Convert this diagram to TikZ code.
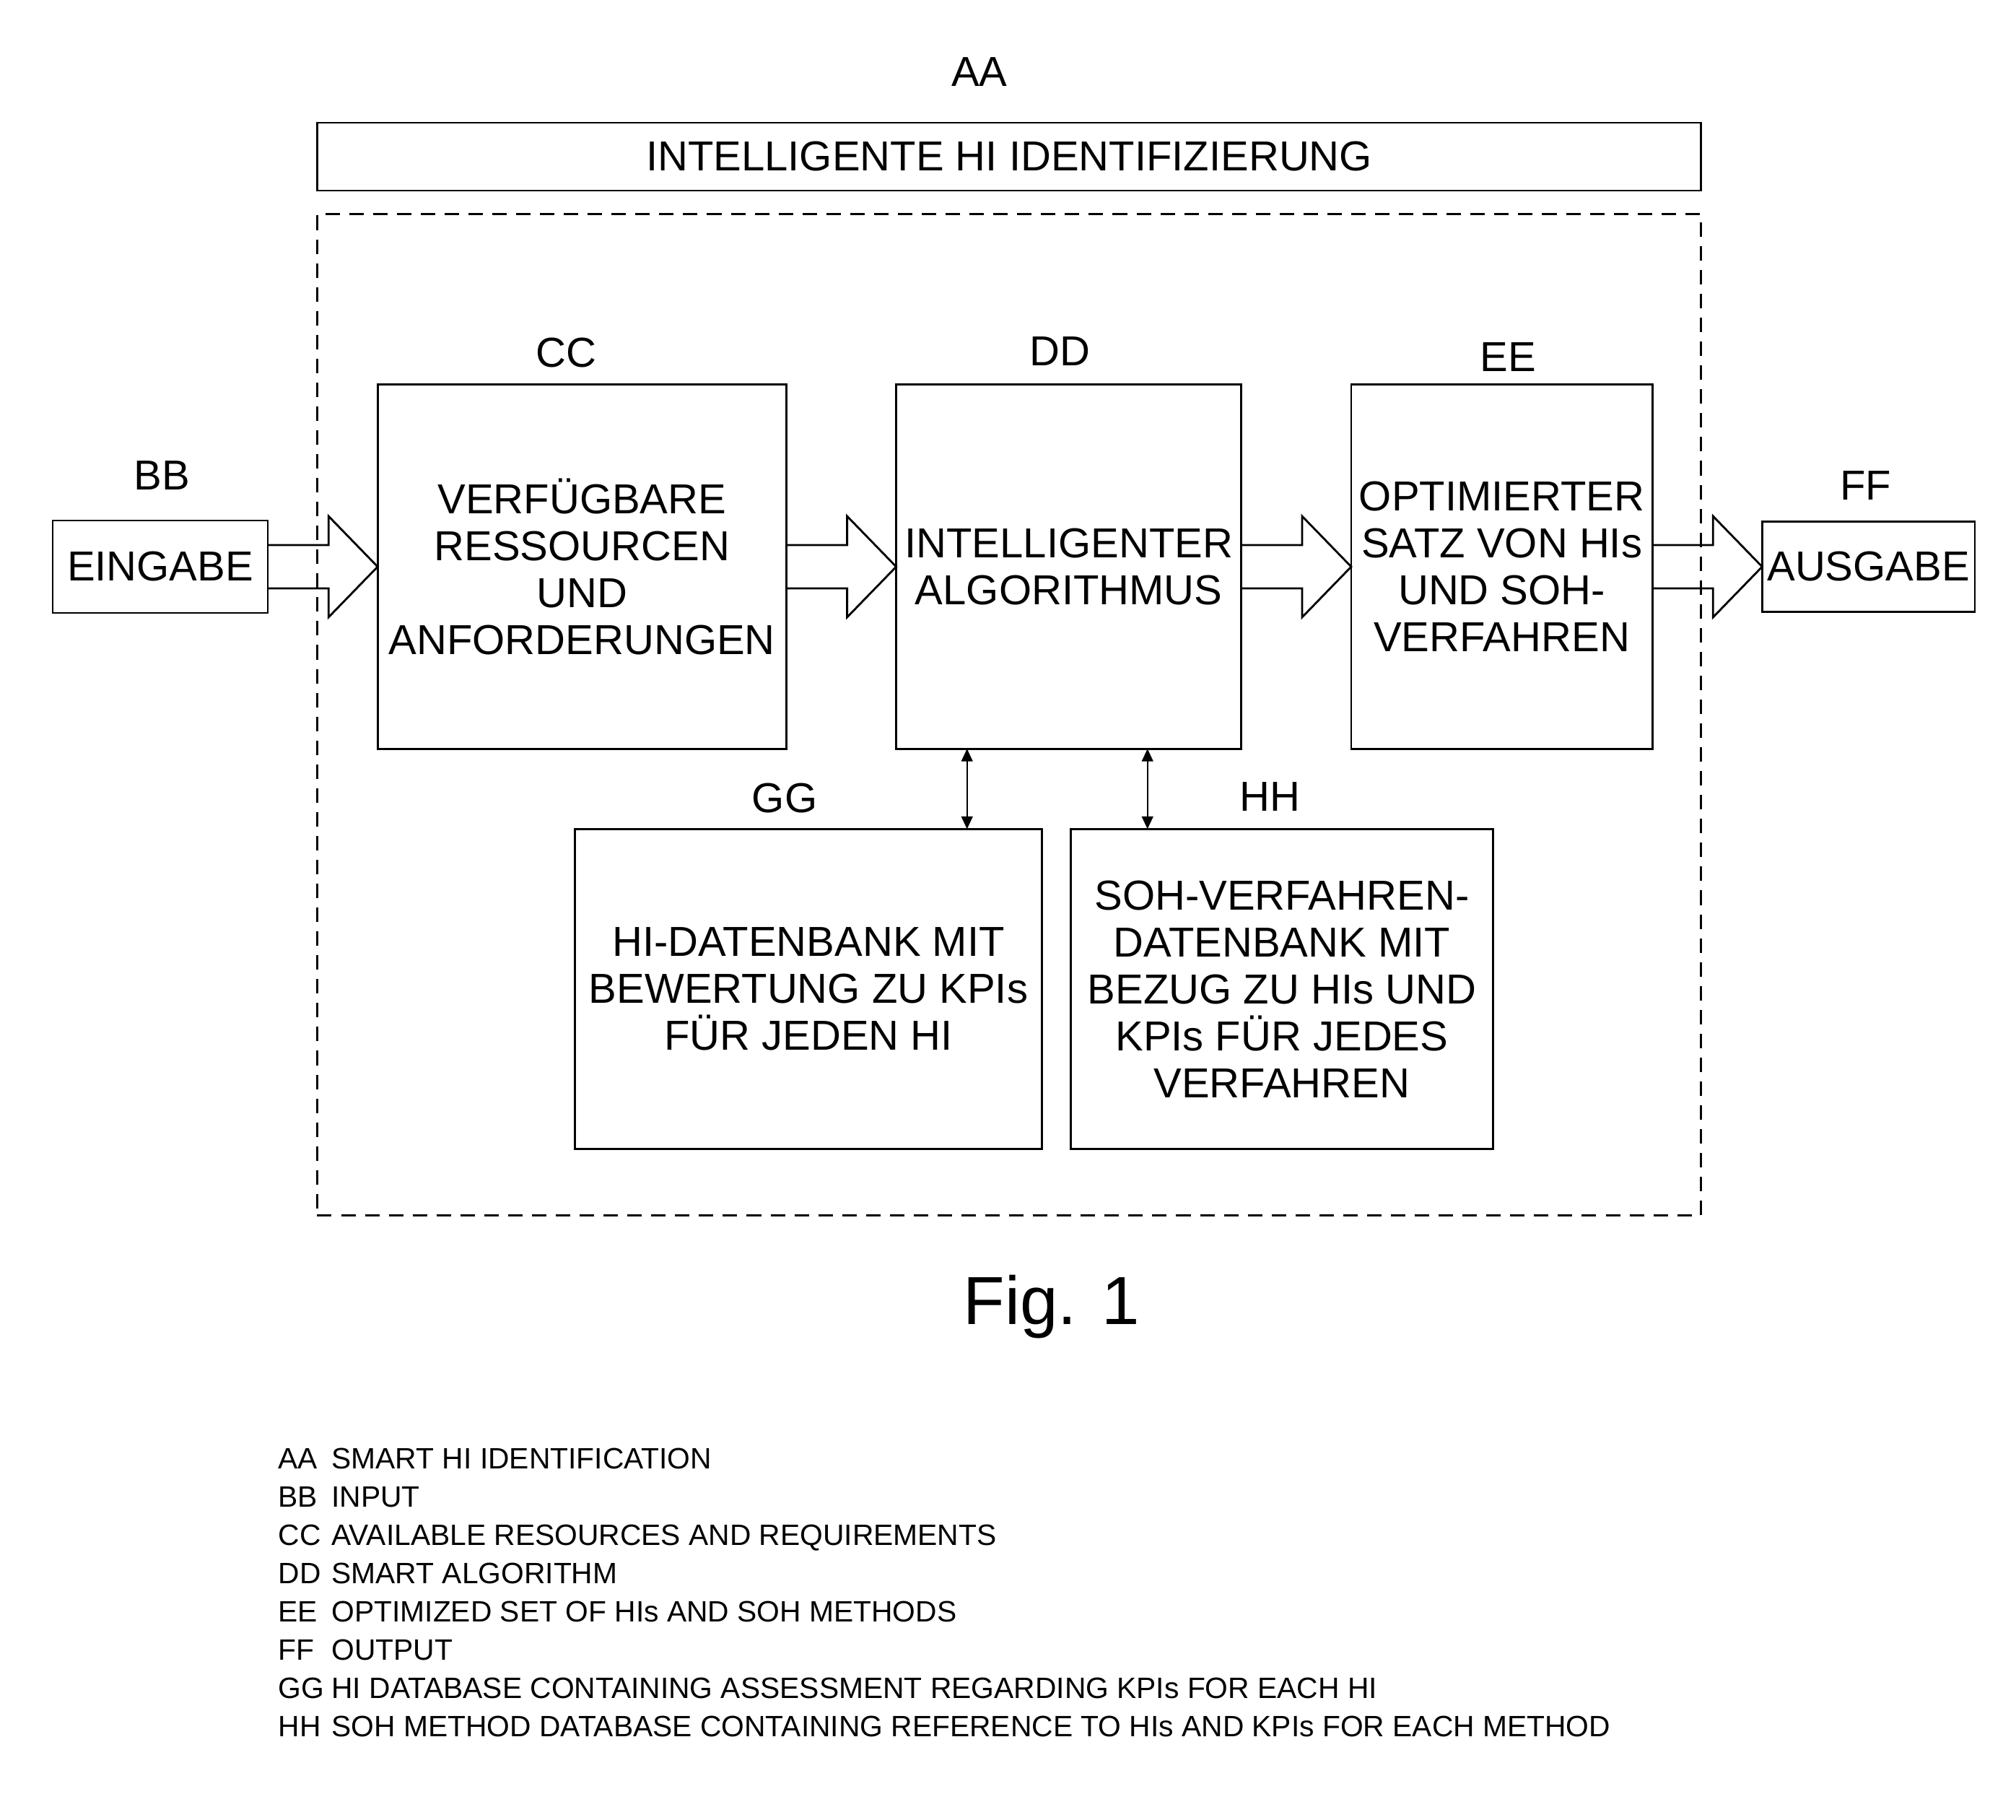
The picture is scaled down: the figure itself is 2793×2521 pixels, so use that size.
\documentclass[tikz,border=0pt]{standalone}
\usepackage{fontspec}
\setmainfont{Liberation Sans}
\usepackage{tikz}
\usetikzlibrary{arrows.meta,positioning,calc}
\newcommand{\boxfont}{\fontsize{16.5}{18.5}\selectfont}
\newcommand{\legfont}{\fontsize{11.6}{15.1}\selectfont}
\newcommand{\lk}[1]{\makebox[21pt][l]{#1}}
% hollow block arrow from one box to the next
\newcommand{\fatarrow}[2]{%
  \draw[fat] ($(#1.east)+(0,-30)$) -- ($(#2.west)+(-68,-30)$) -- ($(#2.west)+(-68,-70)$)
    -- (#2.west) -- ($(#2.west)+(-68,70)$) -- ($(#2.west)+(-68,30)$) -- ($(#1.east)+(0,30)$);}

\begin{document}
\begin{tikzpicture}[x=0.01cm,y=-0.01cm,
  blk/.style={draw,line width=0.8pt,inner sep=2pt,outer sep=0pt,align=center,font=\boxfont},
  lbl/.style={inner sep=0pt,font=\boxfont},
  frame/.style={draw,line width=0.8pt,dash pattern=on 5.7pt off 3.7pt},
  fat/.style={line width=0.8pt,line join=miter},
  biarr/.style={{Triangle[length=5pt,width=4.5pt]}-{Triangle[length=5pt,width=4.5pt]},line width=0.6pt}
]
\useasboundingbox (0,0) rectangle (2793,2521);

\node[blk,minimum width=19.16cm,minimum height=0.94cm] (title) at (1398,217) {INTELLIGENTE HI IDENTIFIZIERUNG};
\node[frame,minimum width=19.16cm,minimum height=13.86cm] (aa) at (1398,990) {};

\node[blk,minimum width=2.98cm,minimum height=1.28cm] (ein) at (222,785) {EINGABE};
\node[blk,minimum width=5.66cm,minimum height=5.04cm,right=1.52cm of ein] (cc) {VERFÜGBARE\\RESSOURCEN\\UND\\ANFORDERUNGEN};
\node[blk,minimum width=4.78cm,minimum height=5.04cm,right=1.52cm of cc] (dd) {INTELLIGENTER\\ALGORITHMUS};
\node[blk,minimum width=4.17cm,minimum height=5.04cm,right=1.52cm of dd] (ee) {OPTIMIERTER\\SATZ VON HIs\\UND SOH-\\VERFAHREN};
\node[blk,minimum width=2.93cm,minimum height=1.25cm,right=1.52cm of ee] (aus) {AUSGABE};
\node[blk,minimum width=6.46cm,minimum height=4.43cm] (gg) at (1120,1370) {HI-DATENBANK MIT\\BEWERTUNG ZU KPIs\\FÜR JEDEN HI};
\node[blk,minimum width=5.85cm,minimum height=4.43cm,right=0.40cm of gg] (hh) {SOH-VERFAHREN-\\DATENBANK MIT\\BEZUG ZU HIs UND\\KPIs FÜR JEDES\\VERFAHREN};

% reference labels
\node[lbl,above=0.50cm of title,xshift=-0.41cm] (aalbl) {AA};
\node[lbl,above=0.42cm of ein,xshift=0.02cm] (bblbl) {BB};
\node[lbl,above=0.23cm of cc,xshift=-0.22cm] (cclbl) {CC};
\node[lbl,above=0.26cm of dd,xshift=-0.12cm] (ddlbl) {DD};
\node[lbl,above=0.18cm of ee,xshift=0.09cm] (eelbl) {EE};
\node[lbl,above=0.29cm of aus,xshift=-0.04cm] (fflbl) {FF};
\node[lbl,above=0.22cm of gg,xshift=-0.33cm] (gglbl) {GG};
\node[lbl,above=0.24cm of hh,xshift=-0.16cm] (hhlbl) {HH};

\fatarrow{ein}{cc}
\fatarrow{cc}{dd}
\fatarrow{dd}{ee}
\fatarrow{ee}{aus}

\coordinate (dg) at ($(dd.south)+(-141,0)$);
\coordinate (dh) at ($(dd.south)+(109,0)$);
\draw[biarr] (dg) -- (dg |- gg.north);
\draw[biarr] (dh) -- (dh |- hh.north);

\node[inner sep=0pt,anchor=base,font=\fontsize{26.8}{30}\selectfont] (fig) at (1457,1834) {Fig. 1};

\node[inner sep=0pt,anchor=north west,align=left,font=\legfont] (leg) at (385,2005) {%
\lk{AA}SMART HI IDENTIFICATION\\
\lk{BB}INPUT\\
\lk{CC}AVAILABLE RESOURCES AND REQUIREMENTS\\
\lk{DD}SMART ALGORITHM\\
\lk{EE}OPTIMIZED SET OF HIs AND SOH METHODS\\
\lk{FF}OUTPUT\\
\lk{GG}HI DATABASE CONTAINING ASSESSMENT REGARDING KPIs FOR EACH HI\\
\lk{HH}SOH METHOD DATABASE CONTAINING REFERENCE TO HIs AND KPIs FOR EACH METHOD};
\end{tikzpicture}
\end{document}
